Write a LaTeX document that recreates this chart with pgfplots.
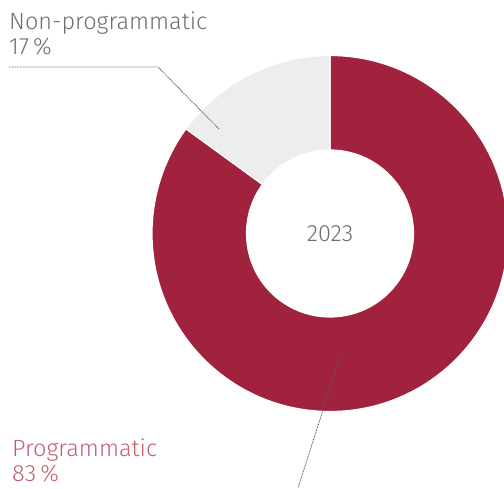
\documentclass[border=0pt]{standalone}
\usepackage{pgfplots}
\pgfplotsset{compat=1.18}
\usepackage{pgfplotstable}
\usepackage{fontspec}
\setmainfont{Fira Sans}[UprightFont=* Light]
\definecolor{crimson}{HTML}{A0223D}
\definecolor{slicegray}{HTML}{EDEDED}
\definecolor{txtgray}{HTML}{6E6E6E}
\definecolor{txtred}{HTML}{C2606E}
\definecolor{leader}{HTML}{5A5A5A}

\pgfplotstableread{
label share
Programmatic 85
Non-programmatic 15
}\donutdata

\begin{document}
\begin{tikzpicture}
\pgfplotstablegetelem{0}{share}\of\donutdata \let\sharea\pgfplotsretval
\pgfplotstablegetelem{1}{share}\of\donutdata \let\shareb\pgfplotsretval
\pgfmathsetmacro{\enda}{90-3.6*\sharea}
\pgfmathsetmacro{\startb}{90-3.6*\sharea+360}
\def\Ro{178}
\def\Ri{83.5}
\begin{axis}[
  x=1pt, y=1pt,
  xmin=0, xmax=504, ymin=0, ymax=488,
  hide axis,
  clip=true,
]
\coordinate (c) at (axis cs:330,254.5);
% Programmatic slice
\fill[crimson, draw=white, line width=1.2pt]
  ([shift={(90:\Ro pt)}]c) arc[start angle=90, end angle=\enda, radius=\Ro pt]
  -- ([shift={(\enda:\Ri pt)}]c) arc[start angle=\enda, end angle=90, radius=\Ri pt] -- cycle;
% Non-programmatic slice
\fill[slicegray, draw=white, line width=1.2pt]
  ([shift={(\startb:\Ro pt)}]c) arc[start angle=\startb, end angle=90, radius=\Ro pt]
  -- ([shift={(90:\Ri pt)}]c) arc[start angle=90, end angle=\startb, radius=\Ri pt] -- cycle;
% leader lines
\draw[leader, line width=0.9pt, dash pattern=on 0.8pt off 0.8pt]
  (axis cs:9,421) -- (axis cs:158,421) -- (axis cs:219,359);
\draw[leader, line width=0.9pt, dash pattern=on 0.8pt off 0.8pt]
  (axis cs:340,131) -- (axis cs:298,0);
% labels
\node[anchor=base west, inner sep=0pt, txtgray, font=\fontsize{23.5}{26}\selectfont] at (axis cs:9,458.7) {Non-programmatic};
\node[anchor=base west, inner sep=0pt, txtgray, font=\fontsize{23.5}{26}\selectfont] at (axis cs:9,433) {17\hspace{4pt}\%};
\node[anchor=base west, inner sep=0pt, txtred, font=\fontsize{23.5}{26}\selectfont] at (axis cs:12,31.5) {Programmatic};
\node[anchor=base west, inner sep=0pt, txtred, font=\fontsize{23.5}{26}\selectfont] at (axis cs:12,6.5) {83\hspace{4pt}\%};
\node[anchor=base, inner sep=0pt, txtgray, font=\fontsize{23.5}{26}\selectfont] at (axis cs:330,246.3) {2023};
\end{axis}
\pgfresetboundingbox
\useasboundingbox (0,0) rectangle (504pt,488pt);
\end{tikzpicture}
\end{document}
